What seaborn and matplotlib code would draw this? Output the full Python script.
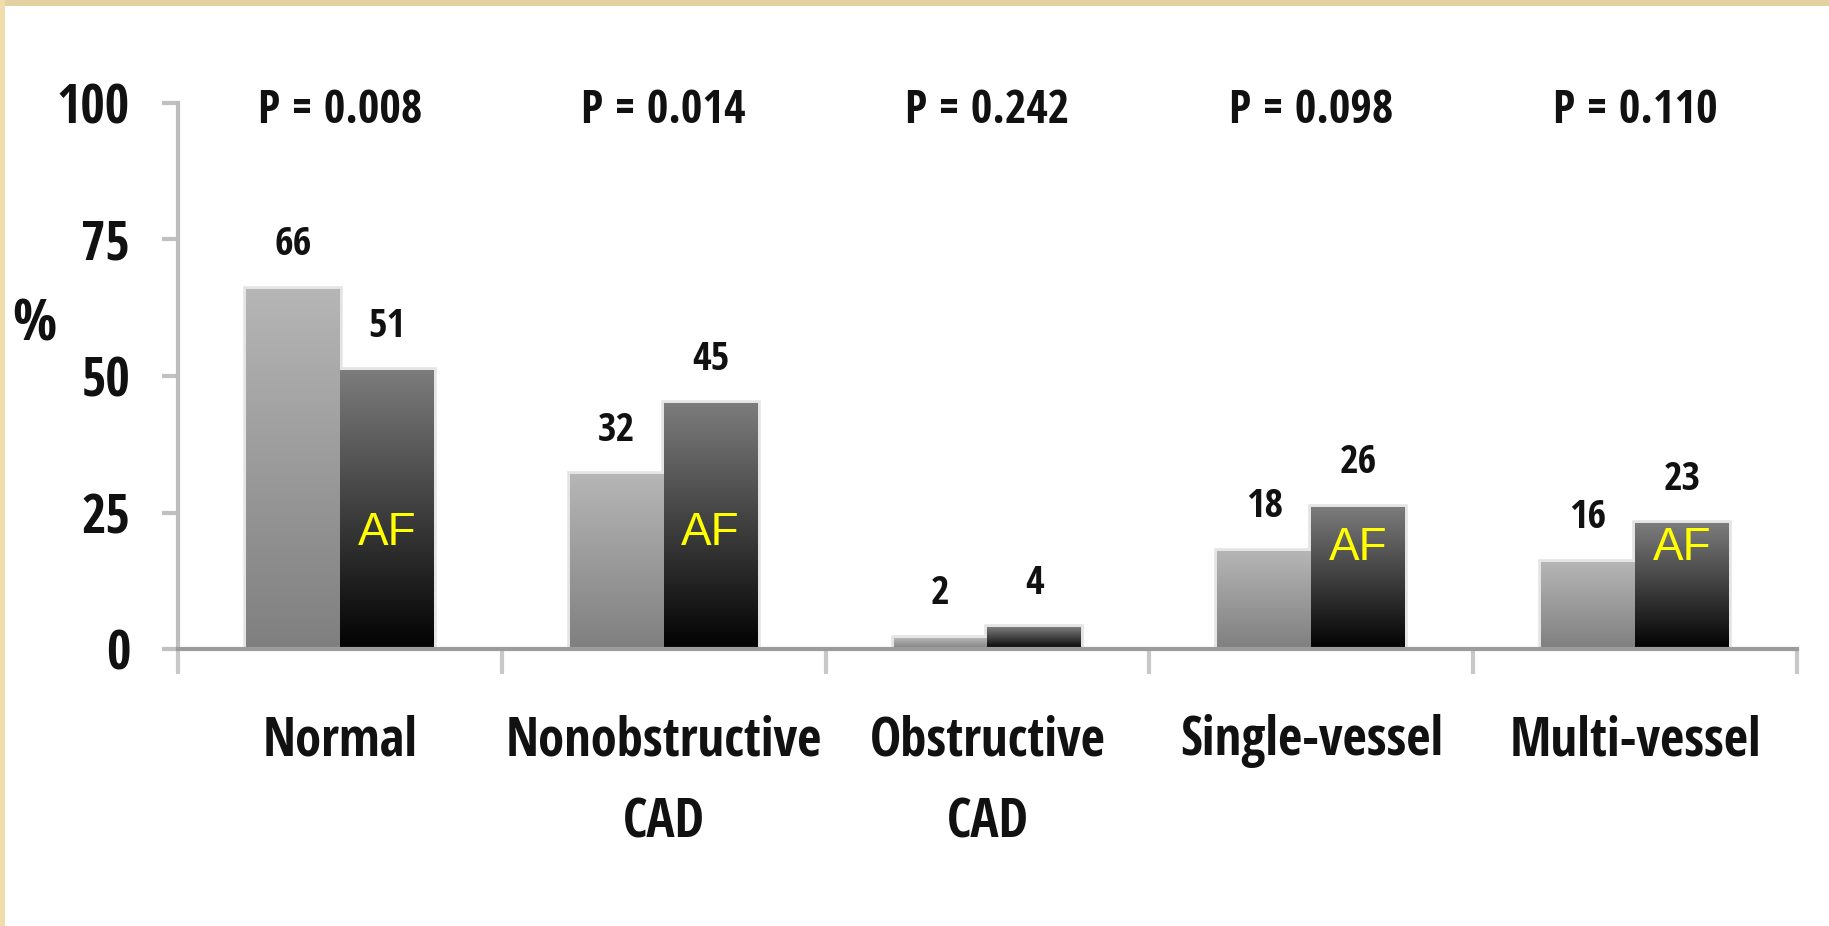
import numpy as np
import pandas as pd
import seaborn as sns
import matplotlib
matplotlib.use("Agg")
import matplotlib.pyplot as plt
from matplotlib.colors import LinearSegmentedColormap
from matplotlib.patches import Rectangle
from matplotlib.ticker import FixedLocator

# ---- data ----
categories = ["Normal", "Nonobstructive\nCAD", "Obstructive\nCAD", "Single-vessel", "Multi-vessel"]
group_names = ["Control", "AF"]
control_pct = [66, 32, 2, 18, 16]
af_pct = [51, 45, 4, 26, 23]
p_labels = ["P = 0.008", "P = 0.014", "P = 0.242", "P = 0.098", "P = 0.110"]
y_ticks = [0, 25, 50, 75, 100]

df = pd.DataFrame({
    "category": categories * 2,
    "group": [group_names[0]] * len(categories) + [group_names[1]] * len(categories),
    "value": control_pct + af_pct,
})

sns.set_style("white")
plt.rcParams["font.family"] = ["Open Sans Condensed", "DejaVu Sans"]

fig = plt.figure(figsize=(18.29, 9.26), dpi=100)
fig.patch.set_facecolor("white")
ax = fig.add_axes([0.0973, 0.299, 0.8852, 0.590])

sns.barplot(data=df, x="category", y="value", hue="group", order=categories,
            hue_order=group_names, palette=["#a0a0a0", "#404040"],
            width=0.58, gap=0, saturation=1, legend=False, ax=ax, zorder=2)

# gradient fill for each bar
grad = np.linspace(0, 1, 256).reshape(-1, 1)
cmaps = {
    0: LinearSegmentedColormap.from_list("light", ["#7f7f7f", "#b6b6b6"]),
    1: LinearSegmentedColormap.from_list("dark", ["#020202", "#7c7c7c"]),
}
n = len(categories)
bars = list(ax.patches)
for k, patch in enumerate(bars):
    grp = k // n
    x0, y0 = patch.get_x(), patch.get_y()
    w, h = patch.get_width(), patch.get_height()
    patch.set_edgecolor("#e4e4e4")
    patch.set_linewidth(4)
    im = ax.imshow(grad, extent=[x0, x0 + w, y0, y0 + h], origin="lower",
                   aspect="auto", cmap=cmaps[grp], zorder=3, interpolation="bilinear")
    im.set_clip_path(patch)

# value labels and AF tags
for k, patch in enumerate(bars):
    grp = k // n
    xc = patch.get_x() + patch.get_width() / 2
    v = patch.get_height()
    ax.text(xc, v + 8.0, f"{v:.0f}", ha="center", va="center", fontsize=29,
            fontweight="bold", color="#111111", zorder=5)
    if grp == 1 and v > 10:
        yaf = 21.2 if v >= 40 else min(18.6, v - 4.4)
        ax.text(xc, yaf, "AF", ha="center", va="center", fontsize=33,
                color="#ffff00", family=["Liberation Sans", "DejaVu Sans"], zorder=5)

# p-values
for i, p in enumerate(p_labels):
    ax.text(i, 98.6, p, ha="center", va="center", fontsize=33.5, fontweight="bold",
            color="#111111")

ax.set_xlim(-0.5, n - 0.5)
ax.set_ylim(0, 100)
ax.set_yticks(y_ticks)
ax.set_yticklabels([str(t) for t in y_ticks], fontsize=38, fontweight="bold", color="#111111")
ax.set_xticks(range(n))
ax.set_xticklabels(categories, fontsize=38, fontweight="bold", linespacing=1.68, color="#111111")
ax.xaxis.set_minor_locator(FixedLocator(np.arange(-0.5, n, 1.0)))
ax.tick_params(axis="x", which="major", length=0, pad=47, bottom=True)
ax.tick_params(axis="x", which="minor", length=18, width=3, color="#c8c8c8",
               direction="out", bottom=True)
ax.tick_params(axis="y", which="major", length=11.5, width=3, color="#c0c0c0",
               direction="out", pad=23, left=True)
ax.set_xlabel("")
ax.set_ylabel("")

for s in ["top", "right"]:
    ax.spines[s].set_visible(False)
ax.spines["left"].set_color("#bdbdbd")
ax.spines["left"].set_linewidth(3)
ax.spines["bottom"].set_color("#9c9c9c")
ax.spines["bottom"].set_linewidth(3)
ax.spines["bottom"].set_zorder(4)

fig.text(0.019, 0.648, "%", fontsize=42, ha="center", va="center", color="#111111")

# beige frame
fig.patches.append(Rectangle((0, 1 - 6 / 926), 1, 6 / 926, transform=fig.transFigure,
                             facecolor="#e3d2a1", edgecolor="none", zorder=10))
fig.patches.append(Rectangle((0, 0), 5 / 1829, 1, transform=fig.transFigure,
                             facecolor="#f0dda9", edgecolor="none", zorder=10))

fig.savefig("out.png", dpi=100)
